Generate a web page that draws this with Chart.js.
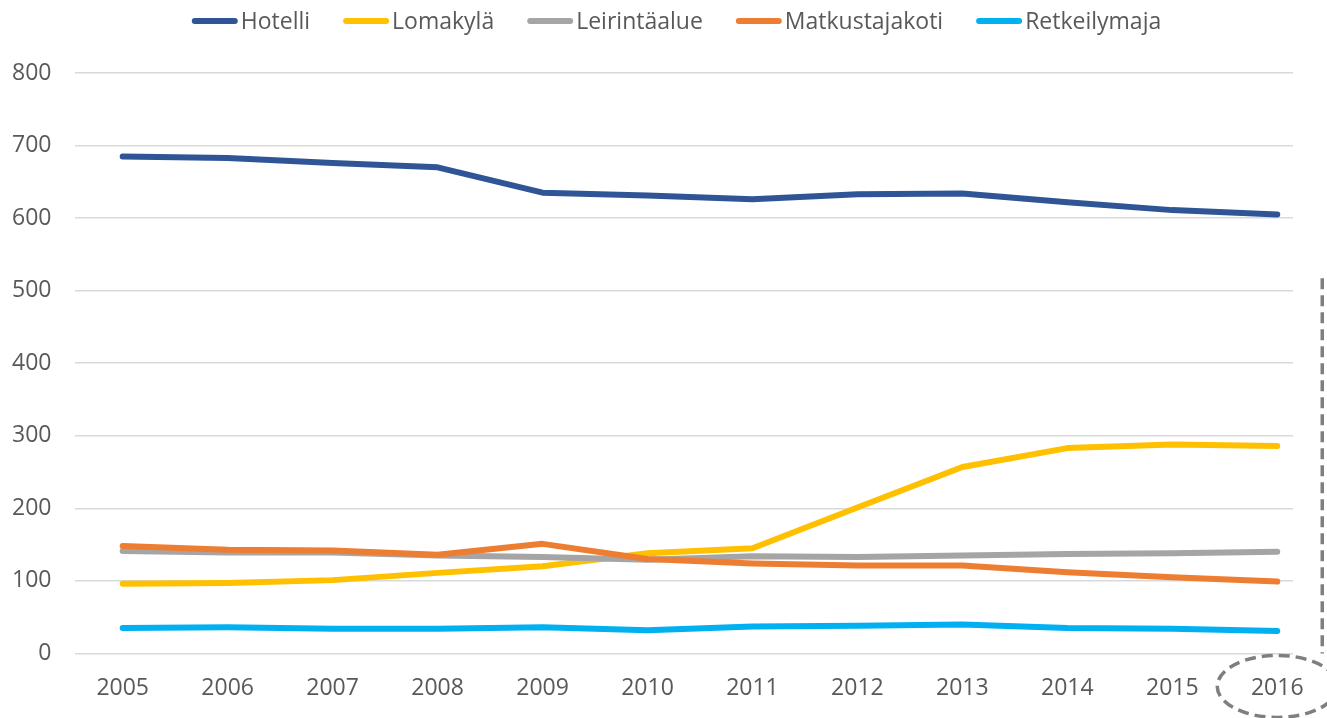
<!DOCTYPE html>
<html>
<head>
<meta charset="utf-8">
<script src="https://cdn.jsdelivr.net/npm/chart.js@4/dist/chart.umd.min.js"></script>
<style>
  html, body { margin: 0; padding: 0; background: #ffffff; }
  #wrap { width: 1327px; height: 718px; position: relative; }
</style>
</head>
<body>
<div id="wrap"><canvas id="c" width="1327" height="718"></canvas></div>
<script>
const years = [2005, 2006, 2007, 2008, 2009, 2010, 2011, 2012, 2013, 2014, 2015, 2016];
const seriesNames = ["Hotelli", "Lomakylä", "Leirintäalue", "Matkustajakoti", "Retkeilymaja"];
const hotelli      = [685, 683, 676, 670, 635, 631, 626, 633, 634, 622, 611, 605];
const lomakyla     = [96, 97, 101, 111, 120, 138, 145, 201, 257, 283, 288, 286];
const leirintaalue = [141, 139, 139, 135, 133, 129, 134, 133, 135, 137, 138, 140];
const matkustajakoti = [148, 143, 142, 136, 151, 130, 124, 121, 121, 112, 105, 99];
const retkeilymaja = [35, 36, 34, 34, 36, 32, 37, 38, 40, 35, 34, 31];
const yTicks = [0, 100, 200, 300, 400, 500, 600, 700, 800];

const colors = ["#2F5597", "#FFC000", "#A5A5A5", "#ED7D31", "#00B0F0"];
const values = [hotelli, lomakyla, leirintaalue, matkustajakoti, retkeilymaja];
const FONT = "'Open Sans', 'Liberation Sans', sans-serif";
const TEXT = '#595959';

const datasets = seriesNames.map((name, i) => ({
  label: name,
  data: years.map((y, j) => ({ x: y, y: values[i][j] })),
  borderColor: colors[i],
  backgroundColor: colors[i],
  borderWidth: 6,
  borderCapStyle: 'round',
  borderJoinStyle: 'round',
  pointRadius: 0,
  pointHoverRadius: 0,
  tension: 0,
  fill: false,
  order: seriesNames.length - i
}));

// Legend drawn in Excel style: short thick line, tiny gap, text.
const topLegend = {
  id: 'topLegend',
  afterDraw(chart) {
    const ctx = chart.ctx;
    const lineLen = 46, gapText = 3, gapItem = 33, y = 21;
    ctx.save();
    ctx.font = '23px ' + FONT;
    const items = chart.data.datasets.map(d => ({
      label: d.label, color: d.borderColor, w: ctx.measureText(d.label).width
    }));
    const total = items.reduce((s, it) => s + lineLen + gapText + it.w, 0) + gapItem * (items.length - 1);
    let x = (chart.width - total) / 2 + 13;
    items.forEach(it => {
      ctx.strokeStyle = it.color;
      ctx.lineWidth = 6;
      ctx.lineCap = 'round';
      ctx.beginPath();
      ctx.moveTo(x + 3, y);
      ctx.lineTo(x + lineLen - 3, y);
      ctx.stroke();
      ctx.fillStyle = TEXT;
      ctx.textAlign = 'left';
      ctx.textBaseline = 'middle';
      ctx.fillText(it.label, x + lineLen + gapText, y + 1);
      x += lineLen + gapText + it.w + gapItem;
    });
    ctx.restore();
  }
};

const annotate = {
  id: 'annotate',
  afterDraw(chart) {
    const ctx = chart.ctx;
    const xs = chart.scales.x, ys = chart.scales.y;
    const lastX = xs.getPixelForValue(years[years.length - 1]);
    ctx.save();
    ctx.strokeStyle = '#7F7F7F';
    ctx.lineWidth = 3.5;
    ctx.setLineDash([11, 6]);
    const vx = lastX + 45;
    ctx.beginPath();
    ctx.moveTo(vx, ys.getPixelForValue(517));
    ctx.lineTo(vx, ys.getPixelForValue(0));
    ctx.stroke();
    ctx.beginPath();
    ctx.ellipse(lastX, ys.getPixelForValue(0) + 33, 60, 31, 0, 0, Math.PI * 2);
    ctx.stroke();
    ctx.restore();
  }
};

new Chart(document.getElementById('c'), {
  type: 'line',
  data: { datasets },
  plugins: [annotate, topLegend],
  options: {
    responsive: false,
    animation: false,
    layout: { padding: { left: -12, right: 34, top: 73, bottom: -5 } },
    plugins: {
      tooltip: { enabled: false },
      legend: { display: false }
    },
    scales: {
      x: {
        type: 'linear',
        min: 2004.55,
        max: 2016.15,
        afterBuildTicks: (scale) => { scale.ticks = years.map(v => ({ value: v })); },
        grid: { display: false, drawTicks: false },
        border: { display: false },
        ticks: {
          color: TEXT,
          font: { family: FONT, size: 23 },
          padding: 21,
          maxRotation: 0,
          autoSkip: false,
          callback: (v) => String(v)
        }
      },
      y: {
        min: 0,
        max: 800,
        afterBuildTicks: (scale) => { scale.ticks = yTicks.map(v => ({ value: v })); },
        grid: { color: '#D9D9D9', lineWidth: 1.5, drawTicks: false },
        border: { display: false },
        ticks: {
          color: TEXT,
          font: { family: FONT, size: 23 },
          padding: 24,
          callback: (v) => String(v)
        }
      }
    }
  }
});
</script>
</body>
</html>
